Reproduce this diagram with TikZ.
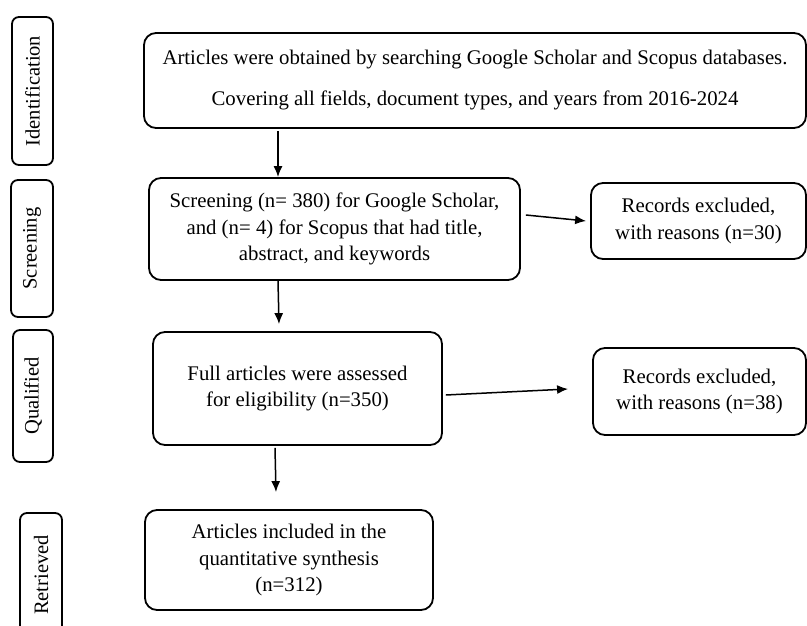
\documentclass[tikz,border=0pt]{standalone}
\usepackage{fontspec}
\setmainfont{Liberation Serif}
\usetikzlibrary{arrows.meta}
\begin{document}
\begin{tikzpicture}[x=1pt,y=-1pt,
  mainbox/.style={draw=black, line width=1.8pt, rounded corners=12pt, align=center,
    inner sep=0pt, font=\fontsize{20.8}{26.5}\selectfont},
  stagebox/.style={draw=black, line width=1.8pt, rounded corners=7pt, rotate=90,
    inner sep=0pt, font=\fontsize{20.5}{23}\selectfont},
  arr/.style={line width=1.5pt, -{Latex[length=11pt,width=9pt]}}]
\useasboundingbox (0,0) rectangle (807,626);
\clip (0,0) rectangle (807,626);
\fill[white] (0,0) rectangle (807,626);

% stage labels
\node[stagebox, minimum width=148pt, minimum height=41pt] (lid) at (32.5,91) {Identification};
\node[stagebox, minimum width=137pt, minimum height=42pt] (lsc) at (32,248.5) {Screening};
\node[stagebox, minimum width=132pt, minimum height=40pt] (lqu) at (33,396) {Qualified};
\node[stagebox, minimum width=124pt, minimum height=42pt] (lre) at (41,575) {Retrieved};

% main boxes
\node[mainbox, minimum width=662pt, minimum height=95pt] (top) at (475,80.5)
  {Articles were obtained by searching Google Scholar and Scopus databases.\\[14.5pt]
   Covering all fields, document types, and years from 2016-2024};
\node[mainbox, minimum width=371pt, minimum height=102pt] (scr) at (334.5,229)
  {Screening (n= 380) for Google Scholar,\\ and (n= 4) for Scopus that had title,\\ abstract, and keywords};
\node[mainbox, minimum width=215pt, minimum height=76pt] (ex1) at (698.5,221)
  {Records excluded,\\ with reasons (n=30)};
\node[mainbox, minimum width=289pt, minimum height=113pt] (full) at (297.5,388.5)
  {Full articles were assessed\\ for eligibility (n=350)};
\node[mainbox, minimum width=213pt, minimum height=87pt] (ex2) at (699.5,391.5)
  {Records excluded,\\ with reasons (n=38)};
\node[mainbox, minimum width=288pt, minimum height=100pt] (inc) at (289,560)
  {Articles included in the\\ quantitative synthesis\\ (n=312)};

% connectors
\draw[arr] ([shift={(-197pt,-2pt)}]top.south) -- ([shift={(-56.5pt,0pt)}]scr.north);
\draw[arr] ([shift={(-56.5pt,0pt)}]scr.south) -- ([shift={(-18.5pt,7pt)}]full.north);
\draw[arr] ([shift={(-22.5pt,-2pt)}]full.south) -- ([shift={(-13pt,17pt)}]inc.north);
\draw[arr] ([shift={(5pt,14pt)}]scr.east) -- ([shift={(-4pt,0pt)}]ex1.west);
\draw[arr] ([shift={(3pt,-6.5pt)}]full.east) -- ([shift={(-24pt,2.5pt)}]ex2.west);
\end{tikzpicture}
\end{document}
